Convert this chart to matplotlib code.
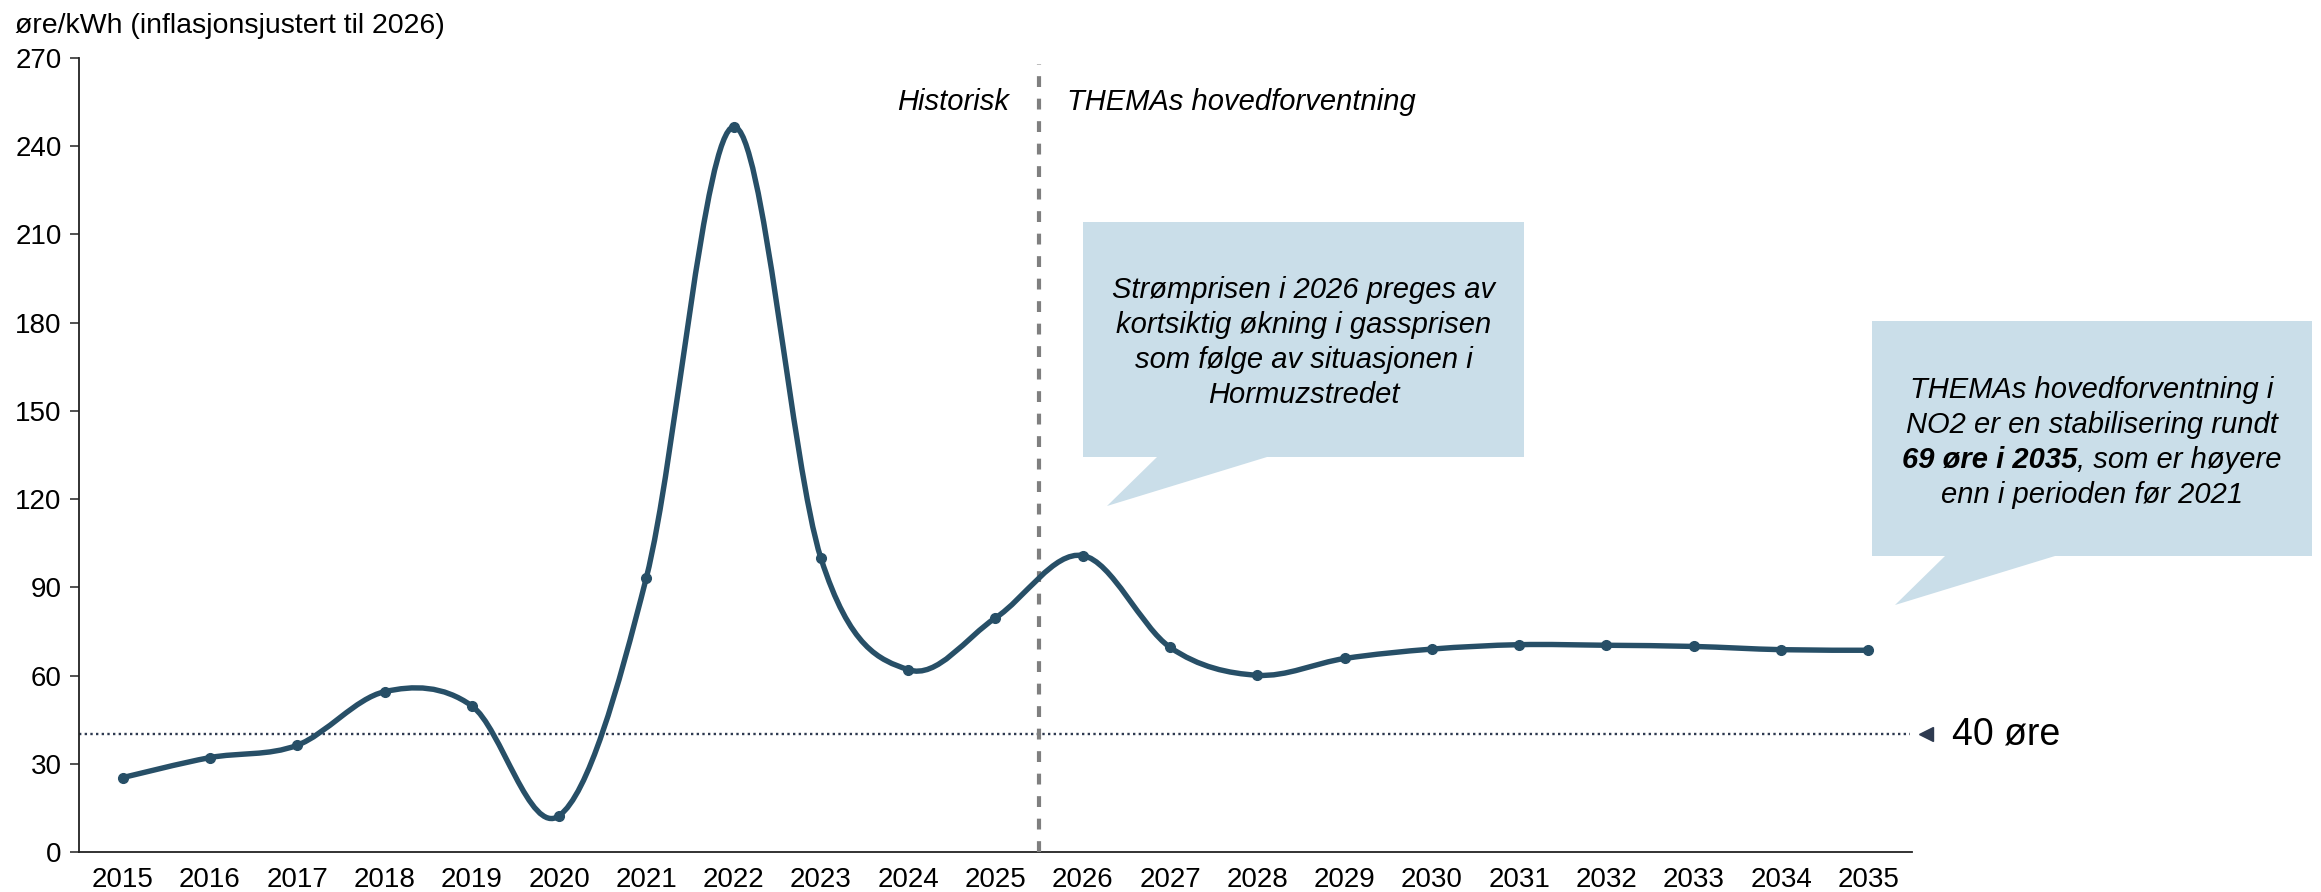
import numpy as np
import matplotlib
matplotlib.use("Agg")
import matplotlib.pyplot as plt
from matplotlib.path import Path
from matplotlib.patches import PathPatch, Polygon
import matplotlib.transforms as mtransforms

plt.rcParams['font.family'] = ['Liberation Sans', 'DejaVu Sans']

# ---------------- data ----------------
years = [str(y) for y in range(2015, 2036)]
prices = [25.3, 32.1, 36.3, 54.5, 49.7, 12.3, 93.3, 246.6, 99.9, 62.0, 79.6,
          100.8, 69.6, 60.1, 65.8, 69.0, 70.5, 70.3, 69.9, 68.8, 68.6]
threshold = 40
threshold_label = "40 øre"
ytick_vals = list(range(0, 271, 30))
y_label = "øre/kWh (inflasjonsjustert til 2026)"
hist_label = "Historisk"
fcst_label = "THEMAs hovedforventning"
callout1_lines = ["Strømprisen i 2026 preges av",
                  "kortsiktig økning i gassprisen",
                  "som følge av situasjonen i",
                  "Hormuzstredet"]
callout2_lines = ["THEMAs hovedforventning i",
                  "NO2 er en stabilisering rundt",
                  ("69 øre i 2035", ", som er høyere"),
                  "enn i perioden før 2021"]

LINE = '#274F67'
BOX = '#CADEE9'
DOT = '#2E3A50'

W, H = 2321, 892
fig = plt.figure(figsize=(W / 100, H / 100), dpi=100)
ax = fig.add_axes([79 / W, 1 - 852 / H, (1912 - 79) / W, (852 - 58) / H])

n = len(prices)
xs = np.arange(n, dtype=float)
pts = np.column_stack([xs, np.array(prices, dtype=float)])

# smooth (Excel-like) bezier curve through the points
verts = [tuple(pts[0])]
codes = [Path.MOVETO]
for i in range(n - 1):
    p0 = pts[max(i - 1, 0)]
    p1 = pts[i]
    p2 = pts[i + 1]
    p3 = pts[min(i + 2, n - 1)]
    c1 = p1 + (p2 - p0) / 6.0
    c2 = p2 - (p3 - p1) / 6.0
    verts += [tuple(c1), tuple(c2), tuple(p2)]
    codes += [Path.CURVE4] * 3
curve = PathPatch(Path(verts, codes), fill=False, edgecolor=LINE, lw=3.9,
                  capstyle='round', joinstyle='round', zorder=4)
ax.add_patch(curve)
ax.plot(xs, prices, 'o', color=LINE, ms=7, zorder=5)

ax.set_xlim(-0.5, n - 0.5)
ax.set_ylim(0, 270)
ax.set_yticks(ytick_vals)
ax.set_xticks(xs)
ax.set_xticklabels(years)
for s in ['top', 'right']:
    ax.spines[s].set_visible(False)
for s in ['left', 'bottom']:
    ax.spines[s].set_color('#222222')
    ax.spines[s].set_linewidth(1.3)
ax.tick_params(axis='y', length=6.5, width=1.1, pad=6, labelsize=20, color='#222222')
ax.tick_params(axis='x', length=0, pad=11, labelsize=20)

# historic / forecast divider
split = 10.5
ax.plot([split, split], [0, 268], color='#7F7F7F', lw=3.0,
        linestyle=(0, (2.6, 2.8)), zorder=3)
ax.annotate(hist_label, xy=(split, 255), xytext=(-30, 0), textcoords='offset pixels',
            ha='right', va='center', fontsize=21, style='italic')
ax.annotate(fcst_label, xy=(split, 255), xytext=(28, 0), textcoords='offset pixels',
            ha='left', va='center', fontsize=21, style='italic')

# 40 øre reference line
trans = mtransforms.blended_transform_factory(ax.transAxes, ax.transData)
ax.plot([0, 0.9989], [threshold, threshold], color=DOT, lw=1.7,
        linestyle=(0, (1, 1.4)), transform=trans, clip_on=False, zorder=2)
ax.plot([1.0075], [threshold], marker='<', ms=10, color=DOT,
        transform=trans, clip_on=False)
ax.text(1.0218, threshold, threshold_label, transform=trans, ha='left',
        va='center', fontsize=27)

# y axis title
fig.text(15 / W, 1 - 26 / H, y_label, ha='left', va='center', fontsize=20.5)


# callouts
def callout(box, base, tip):
    x0, y0, x1, y1 = box
    b0, b1 = base
    tx, ty = tip
    v = [(x0, y0), (x1, y0), (x1, y1), (b1, y1), (tx, ty), (b0, y1), (x0, y1)]
    v = [(a / W, 1 - b / H) for a, b in v]
    fig.patches.append(Polygon(v, closed=True, facecolor=BOX, edgecolor='none',
                               transform=fig.transFigure, zorder=1))


callout((1083, 222, 1524, 457), (1157, 1267), (1107, 506))
callout((1872, 321, 2312, 556), (1945, 2055), (1895, 605))

FS = 21
pitch = 35
c1x, c1y = (1083 + 1524) / 2, 288.3
for k, line in enumerate(callout1_lines):
    fig.text(c1x / W, 1 - (c1y + k * pitch + 10) / H, line, ha='center',
             va='baseline', fontsize=FS, style='italic')

renderer = fig.canvas.get_renderer()
c2x, c2y = (1872 + 2312) / 2, 388.3
for k, line in enumerate(callout2_lines):
    yb = 1 - (c2y + k * pitch + 10) / H
    if isinstance(line, tuple):
        tb = fig.text(0, yb, line[0], ha='left', va='baseline', fontsize=FS,
                      style='italic', weight='bold')
        tr = fig.text(0, yb, line[1], ha='left', va='baseline', fontsize=FS,
                      style='italic')
        wb = tb.get_window_extent(renderer).width
        wr = tr.get_window_extent(renderer).width
        left = c2x - (wb + wr) / 2
        tb.set_x(left / W)
        tr.set_x((left + wb) / W)
    else:
        fig.text(c2x / W, yb, line, ha='center', va='baseline', fontsize=FS,
                 style='italic')

fig.savefig('out.png', dpi=100)
